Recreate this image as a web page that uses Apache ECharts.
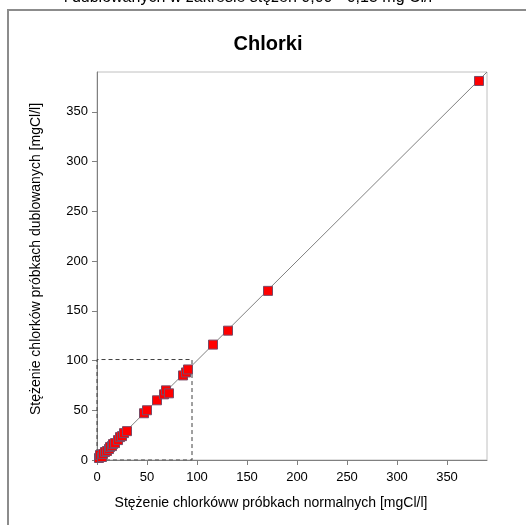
<!DOCTYPE html>
<html><head><meta charset="utf-8">
<script src="https://cdn.jsdelivr.net/npm/echarts@6/dist/echarts.min.js"></script>
<style>html,body{margin:0;padding:0;background:#fff}#c{width:526px;height:525px}</style>
</head><body><div id="c"></div>
<script>
const titleText = 'Chlorki';
const topText = 'i dublowanych w zakresie stężeń 0,00 - 0,15 mg Cl/l';
const xName = 'Stężenie chlorkóww próbkach normalnych [mgCl/l]';
const yName = 'Stężenie chlorków próbkach dublowanych [mgCl/l]';
const normalValues =    [2, 3, 5, 6, 8, 10, 12, 13, 15, 16, 18, 21, 23, 25, 27, 30, 47, 50, 60, 67, 69, 72, 86, 89, 91, 116, 131, 171, 382];
const duplicateValues = [2, 5, 3, 6, 8, 9, 11, 13, 14, 16, 17, 20, 23, 24, 27, 29, 47, 50, 60, 66, 70, 67, 85, 88, 91, 116, 130, 170, 381];
const lineX = [0, 390];
const lineY = [0, 390];
const boxX = [0, 0, 95, 95, 0];
const boxY = [0, 101, 101, 0, 0];
const axisMax = 390;

const font = 'Liberation Sans';
const chart = echarts.init(document.getElementById('c'));
chart.setOption({
  animation: false,
  textStyle: {fontFamily: font},
  graphic: [
    {type: 'rect', shape: {x: 8, y: 10, width: 540, height: 540}, style: {fill: 'none', stroke: '#8c8c8c', lineWidth: 2}},
    {type: 'text', x: 248, y: -10, style: {text: topText, font: '16px "Liberation Sans"', fill: '#000', align: 'center'}},
    {type: 'text', x: 268, y: 34, style: {text: titleText, font: 'bold 20px "Liberation Sans"', fill: '#000', align: 'center'}},
    {type: 'text', x: 271, y: 503, style: {text: xName, font: '14px "Liberation Sans"', fill: '#000', align: 'center', verticalAlign: 'middle'}},
    {type: 'text', x: 36, y: 259, rotation: Math.PI / 2, style: {text: yName, font: '14px "Liberation Sans"', fill: '#000', align: 'center', verticalAlign: 'middle'}}
  ],
  grid: {left: 97, top: 72, right: 39, bottom: 65, show: true, borderColor: '#c0c0c0', borderWidth: 1, backgroundColor: '#fff'},
  xAxis: {
    type: 'value', min: 0, max: axisMax, interval: 50,
    axisLine: {show: true, lineStyle: {color: '#808080'}},
    axisTick: {show: true, length: 5, lineStyle: {color: '#808080'}},
    axisLabel: {fontSize: 13, color: '#000', margin: 11, showMaxLabel: false, fontFamily: font},
    splitLine: {show: false}
  },
  yAxis: {
    type: 'value', min: 0, max: axisMax, interval: 50,
    axisLine: {show: true, lineStyle: {color: '#808080'}},
    axisTick: {show: true, length: 5, lineStyle: {color: '#808080'}},
    axisLabel: {fontSize: 13, color: '#000', margin: 9, showMaxLabel: false, fontFamily: font},
    splitLine: {show: false}
  },
  series: [
    {type: 'line', data: lineX.map((v, i) => [v, lineY[i]]), symbol: 'none', lineStyle: {color: '#808080', width: 1}, z: 1},
    {type: 'line', data: boxX.map((v, i) => [v, boxY[i]]), symbol: 'none', lineStyle: {color: '#404040', width: 1, type: [4, 3]}, z: 3},
    {type: 'scatter', data: normalValues.map((v, i) => [v, duplicateValues[i]]), symbol: 'rect', symbolSize: 9,
     itemStyle: {color: '#ff0000', borderColor: '#7a4a66', borderWidth: 1, opacity: 1}, z: 4}
  ]
});
</script></body></html>
